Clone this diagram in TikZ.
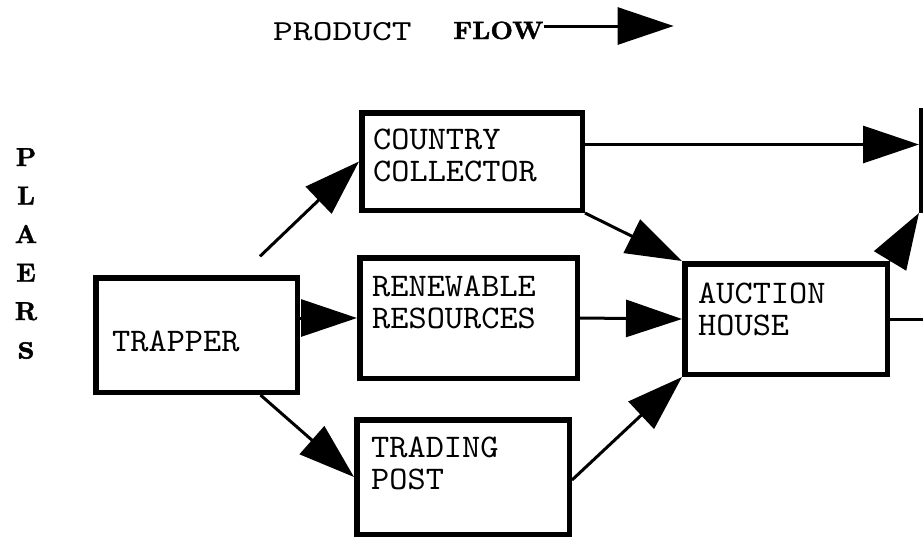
\documentclass[tikz,border=0pt]{standalone}
\usepackage{fontspec}
\usetikzlibrary{
		positioning,
		arrows.meta
	}
\newfontfamily\typefont[FakeStretch=1.05]{lmmono10-regular.otf}
\newfontfamily\headfont[FakeStretch=1.3]{lmmono10-regular.otf}
\newfontfamily\flowfont[FakeStretch=1.05,FakeBold=1.5]{lmroman10-bold.otf}
\newfontfamily\sidefont[FakeBold=1.5]{lmroman10-bold.otf}
\tikzset{
		>={Triangle[length=56pt,width=37pt]},
		box/.style={draw, line width=5.5pt, anchor=north west, inner sep=0pt},
		lbl/.style={font=\typefont\fontsize{33}{32}\selectfont, align=left, anchor=base west, inner sep=0pt},
		flow/.style={->, line width=3pt}
	}

\begin{document}
\begin{tikzpicture}[x=1pt, y=-1pt]
		\useasboundingbox (0,0) rectangle (923,542);
		% heading
		\node[lbl, font=\headfont\fontsize{29}{29}\selectfont] (product) at (273,40) {PRODUCT};
		\node[anchor=base west, inner sep=0pt, font=\flowfont\fontsize{25}{25}\selectfont] (flowlbl) at (453,39) {FLOW};
		\draw[flow] ([yshift=13pt]flowlbl.base east) -- ++(130,0);
		\node[anchor=north, inner sep=0pt, align=center, font=\sidefont\fontsize{26}{38.5}\selectfont] (plaers) at (26,148) {P\\L\\A\\E\\R\\{\fontsize{36}{38.5}\selectfont s}};
		% boxes
		\begin{scope}
			\node[box, minimum width=201.5pt, minimum height=114.5pt] (trapper) at (93,275) {};
			\node[box, minimum width=220.5pt, minimum height=97.5pt] (cc) at (359,110) {};
			\node[box, minimum width=217.5pt, minimum height=120.5pt] (rr) at (357,255) {};
			\node[box, minimum width=212.5pt, minimum height=114.5pt] (tp) at (354,417) {};
			\node[box, minimum width=202.5pt, minimum height=110.5pt] (ah) at (682,261) {};
			\node[box, minimum width=175.5pt, minimum height=99.5pt] (next) at (919,108) {};
			\node[lbl] (trappertxt) at (112,351) {TRAPPER};
			\node[lbl] (cctxt) at (373,181) {COUNTRY\\COLLECTOR};
			\node[lbl] (rrtxt) at (372,328) {RENEWABLE\\RESOURCES};
			\node[lbl] (tptxt) at (371,489) {TRADING\\POST};
			\node[lbl] (ahtxt) at (698,335) {AUCTION\\HOUSE};
		\end{scope}
		% connectors
		\draw[flow, shorten <=27pt] ([xshift=44pt]trapper.north) -- (cc.west);
		\draw[flow] (trapper.east |- rr.west) -- (rr.west);
		\draw[flow] ([xshift=64pt]trapper.south) -- (tp.west);
		\draw[flow] ([yshift=17pt]cc.east) -- ([yshift=17pt]cc.east -| next.west);
		\draw[flow] (cc.south east) -- (ah.north west);
		\draw[flow] (rr.east) -- (ah.west);
		\draw[flow] ([yshift=-3pt]tp.east) -- (ah.south west);
		\draw[flow] (ah.north east) -- (next.south west);
		\draw[line width=3pt] (ah.east) -- ++(60,0);
	\end{tikzpicture}
\end{document}
